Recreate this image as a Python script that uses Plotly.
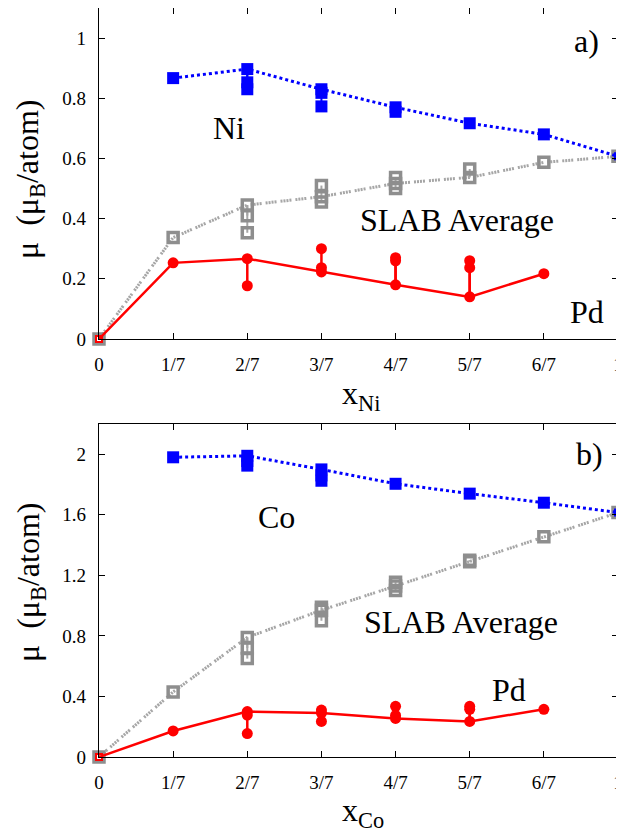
import plotly.graph_objects as go

# ---------------- data ----------------
x_ticks = [0, 1/7, 2/7, 3/7, 4/7, 5/7, 6/7, 1]
x_tick_labels = ["0", "1/7", "2/7", "3/7", "4/7", "5/7", "6/7", "1"]

# panel a) Ni-Pd slab
a_ni_x = [1/7, 2/7, 3/7, 4/7, 5/7, 6/7, 1]
a_ni_y = [0.867, 0.897, 0.830, 0.770, 0.717, 0.680, 0.607]
a_ni_extra_x = [2/7, 2/7, 3/7, 3/7, 4/7]
a_ni_extra_y = [0.853, 0.830, 0.818, 0.773, 0.755]

a_pd_x = [0, 1/7, 2/7, 3/7, 4/7, 5/7, 6/7]
a_pd_y = [0.0, 0.253, 0.267, 0.223, 0.180, 0.140, 0.217]
a_pd_extra_x = [2/7, 3/7, 3/7, 4/7, 4/7, 5/7, 5/7]
a_pd_extra_y = [0.177, 0.237, 0.300, 0.260, 0.270, 0.237, 0.260]

a_avg_x = [0, 1/7, 2/7, 3/7, 4/7, 5/7, 6/7, 1]
a_avg_y = [0.0, 0.337, 0.445, 0.473, 0.517, 0.537, 0.587, 0.607]
a_avg_extra_x = [2/7, 2/7, 3/7, 3/7, 4/7, 4/7, 5/7]
a_avg_extra_y = [0.410, 0.353, 0.510, 0.455, 0.537, 0.500, 0.565]

# panel b) Co-Pd slab
b_co_x = [1/7, 2/7, 3/7, 4/7, 5/7, 6/7, 1]
b_co_y = [1.980, 1.990, 1.900, 1.805, 1.740, 1.680, 1.615]
b_co_extra_x = [2/7, 2/7, 3/7, 3/7]
b_co_extra_y = [1.955, 1.925, 1.860, 1.825]

b_pd_x = [0, 1/7, 2/7, 3/7, 4/7, 5/7, 6/7]
b_pd_y = [0.0, 0.172, 0.300, 0.290, 0.255, 0.235, 0.315]
b_pd_extra_x = [2/7, 2/7, 3/7, 3/7, 4/7, 4/7, 5/7, 5/7]
b_pd_extra_y = [0.277, 0.155, 0.310, 0.235, 0.275, 0.335, 0.315, 0.335]

b_avg_x = [0, 1/7, 2/7, 3/7, 4/7, 5/7, 6/7, 1]
b_avg_y = [0.0, 0.430, 0.790, 0.970, 1.130, 1.290, 1.455, 1.615]
b_avg_extra_x = [2/7, 2/7, 3/7, 3/7, 4/7, 4/7, 5/7]
b_avg_extra_y = [0.720, 0.650, 0.990, 0.900, 1.155, 1.100, 1.300]

# ---------------- style ----------------
BLUE = "#0000ff"
RED = "#ff0000"
GRAY_M = "#8e8e8e"
GRAY_L = "#a6a6a6"
FONT_T = "'Liberation Serif'"
FONT_K = "Times New Roman"

fig = go.Figure()


def segs(main_x, main_y, ex_x, ex_y):
    sx, sy = [], []
    lookup = {round(a, 6): b for a, b in zip(main_x, main_y)}
    for a, b in zip(ex_x, ex_y):
        sx += [a, a, None]
        sy += [lookup[round(a, 6)], b, None]
    return sx, sy


def add_panel(xa, ya, m_x, m_y, m_ex, m_ey, m_col, pd_x, pd_y, pd_ex, pd_ey,
              av_x, av_y, av_ex, av_ey):
    sx, sy = segs(av_x, av_y, av_ex, av_ey)
    fig.add_trace(go.Scatter(x=sx, y=sy, mode="lines", xaxis=xa, yaxis=ya,
                             line=dict(color=GRAY_L, width=2), showlegend=False, hoverinfo="skip"))
    fig.add_trace(go.Scatter(x=av_x, y=av_y, mode="lines", xaxis=xa, yaxis=ya,
                             line=dict(color=GRAY_L, width=3, dash="2px,1px,2px,1px,2px,1px,2px,4px"),
                             showlegend=False))
    fig.add_trace(go.Scatter(x=list(av_x) + list(av_ex), y=list(av_y) + list(av_ey), mode="markers",
                             xaxis=xa, yaxis=ya, cliponaxis=False,
                             marker=dict(symbol="square-open", size=10, color=GRAY_M,
                                         line=dict(color=GRAY_M, width=3.5)),
                             showlegend=False))
    sx, sy = segs(pd_x, pd_y, pd_ex, pd_ey)
    fig.add_trace(go.Scatter(x=sx, y=sy, mode="lines", xaxis=xa, yaxis=ya,
                             line=dict(color=RED, width=2.5), showlegend=False, hoverinfo="skip"))
    fig.add_trace(go.Scatter(x=pd_x, y=pd_y, mode="lines", xaxis=xa, yaxis=ya,
                             line=dict(color=RED, width=2.5), showlegend=False))
    fig.add_trace(go.Scatter(x=list(pd_x[1:]) + list(pd_ex), y=list(pd_y[1:]) + list(pd_ey),
                             mode="markers", xaxis=xa, yaxis=ya,
                             marker=dict(symbol="circle", size=11, color=RED), showlegend=False))
    fig.add_trace(go.Scatter(x=pd_x[:1], y=pd_y[:1], mode="markers", xaxis=xa, yaxis=ya,
                             cliponaxis=False,
                             marker=dict(symbol="square-open", size=6, color=RED,
                                         line=dict(color=RED, width=2)), showlegend=False))
    sx, sy = segs(m_x, m_y, m_ex, m_ey)
    fig.add_trace(go.Scatter(x=sx, y=sy, mode="lines", xaxis=xa, yaxis=ya,
                             line=dict(color=m_col, width=2), showlegend=False, hoverinfo="skip"))
    fig.add_trace(go.Scatter(x=m_x, y=m_y, mode="lines", xaxis=xa, yaxis=ya,
                             line=dict(color=m_col, width=3, dash="dot"), showlegend=False))
    fig.add_trace(go.Scatter(x=list(m_x[:-1]) + list(m_ex), y=list(m_y[:-1]) + list(m_ey),
                             mode="markers", xaxis=xa, yaxis=ya,
                             marker=dict(symbol="square", size=12, color=m_col), showlegend=False))
    fig.add_trace(go.Scatter(x=m_x[-1:], y=m_y[-1:], mode="markers", xaxis=xa, yaxis=ya,
                             cliponaxis=False,
                             marker=dict(symbol="square-open", size=6, color=m_col,
                                         line=dict(color=m_col, width=2)), showlegend=False))


add_panel("x", "y", a_ni_x, a_ni_y, a_ni_extra_x, a_ni_extra_y, BLUE,
          a_pd_x, a_pd_y, a_pd_extra_x, a_pd_extra_y,
          a_avg_x, a_avg_y, a_avg_extra_x, a_avg_extra_y)
add_panel("x2", "y2", b_co_x, b_co_y, b_co_extra_x, b_co_extra_y, BLUE,
          b_pd_x, b_pd_y, b_pd_extra_x, b_pd_extra_y,
          b_avg_x, b_avg_y, b_avg_extra_x, b_avg_extra_y)

axis_common = dict(showline=True, linecolor="black", linewidth=1.2, mirror="ticks",
                   ticks="inside", ticklen=6, tickwidth=1.2, tickcolor="black",
                   showgrid=False, zeroline=False, ticklabeloverflow="allow",
                   tickfont=dict(family=FONT_K, size=19, color="black"))

OFF = 8
W, H = 616, 824
L, R, T, B = 99 - OFF, 6, 8 - OFF, 832 - 757
ph = H - T - B


def py2paper(py):
    return (H - B - (py - OFF)) / ph


def px2paper(px):
    return ((px - OFF) - L) / (W - L - R)


fig.update_layout(
    width=W, height=H,
    margin=dict(l=L, r=R, t=T, b=B),
    paper_bgcolor="white", plot_bgcolor="white",
    font=dict(family=FONT_T, color="black"),
    showlegend=False,
    xaxis=dict(range=[0, 1], tickvals=x_ticks, ticktext=x_tick_labels, anchor="y",
               ticklabelstandoff=8, **axis_common),
    yaxis=dict(range=[0, 1.1], tickvals=[0, 0.2, 0.4, 0.6, 0.8, 1.0],
               ticktext=["0", "0.2", "0.4", "0.6", "0.8", "1"], anchor="x",
               domain=[py2paper(339), 1], ticklabelstandoff=8, **axis_common),
    xaxis2=dict(range=[0, 1], tickvals=x_ticks, ticktext=x_tick_labels, anchor="y2",
                ticklabelstandoff=8, **axis_common),
    yaxis2=dict(range=[0, 2.2], tickvals=[0, 0.4, 0.8, 1.2, 1.6, 2.0],
                ticktext=["0", "0.4", "0.8", "1.2", "1.6", "2"], anchor="x2",
                domain=[0, py2paper(424)], ticklabelstandoff=8, **axis_common),
)

tfont = dict(family=FONT_T, size=32, color="black")
ann = []
ann.append(dict(x=0.25, y=0.70, xref="x", yref="y", text="Ni", showarrow=False, font=tfont))
ann.append(dict(x=0.69, y=0.396, xref="x", yref="y", text="SLAB Average", showarrow=False, font=tfont))
ann.append(dict(x=0.94, y=0.09, xref="x", yref="y", text="Pd", showarrow=False, font=tfont))
ann.append(dict(x=0.94, y=0.99, xref="x", yref="y", text="a)", showarrow=False, font=tfont))
ann.append(dict(x=0.342, y=1.585, xref="x2", yref="y2", text="Co", showarrow=False, font=tfont))
ann.append(dict(x=0.697, y=0.89, xref="x2", yref="y2", text="SLAB Average", showarrow=False, font=tfont))
ann.append(dict(x=0.79, y=0.44, xref="x2", yref="y2", text="Pd", showarrow=False, font=tfont))
ann.append(dict(x=0.945, y=2.0, xref="x2", yref="y2", text="b)", showarrow=False, font=tfont))
ytitle = "\u03bc\u00a0\u00a0(\u03bc<sub>B</sub>/atom)"
for yc in (180, 583):
    ann.append(dict(x=px2paper(30), y=py2paper(yc), xref="paper", yref="paper", text=ytitle,
                    textangle=-90, showarrow=False, font=dict(family=FONT_T, size=32, color="black"),
                    xanchor="center", yanchor="middle"))
ann.append(dict(x=px2paper(361), y=py2paper(395), xref="paper", yref="paper",
                text="x<sub>Ni</sub>", showarrow=False,
                font=dict(family=FONT_T, size=32, color="black"), xanchor="center", yanchor="middle"))
ann.append(dict(x=px2paper(363), y=py2paper(812), xref="paper", yref="paper",
                text="x<sub>Co</sub>", showarrow=False,
                font=dict(family=FONT_T, size=32, color="black"), xanchor="center", yanchor="middle"))
fig.update_layout(annotations=ann)

fig.write_html("out.html")
